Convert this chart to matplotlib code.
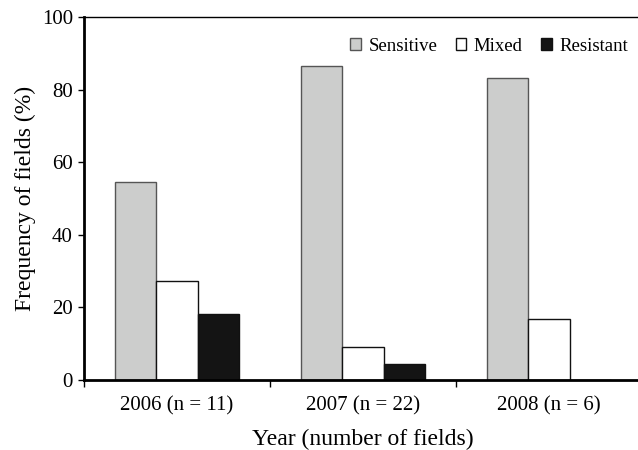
import matplotlib
matplotlib.use("Agg")
import matplotlib.pyplot as plt
import numpy as np

years = ["2006 (n = 11)", "2007 (n = 22)", "2008 (n = 6)"]
series_names = ["Sensitive", "Mixed", "Resistant"]
sensitive = [54.5, 86.4, 83.3]
mixed = [27.3, 9.1, 16.7]
resistant = [18.2, 4.5, 0.0]
y_ticks = [0, 20, 40, 60, 80, 100]

plt.rcParams['font.family'] = ['Liberation Serif', 'DejaVu Serif']

fig = plt.figure(figsize=(6.38, 4.5), dpi=100)
ax = fig.add_axes([84/638, 1-380/450, 558/638, 363/450])

x = np.arange(len(years))
w = 0.223
fills = ["#cccdcc", "#ffffff", "#141414"]
edges = ["#555555", "#111111", "#111111"]
for i, (vals, name) in enumerate(zip([sensitive, mixed, resistant], series_names)):
    ax.bar(x + (i - 1) * w, vals, width=w, color=fills[i], edgecolor=edges[i],
           linewidth=1.0, label=name, zorder=2)

ax.set_xlim(-0.5, 2.5)
ax.set_ylim(0, 100)
ax.set_yticks(y_ticks)
ax.set_xticks(x)
ax.set_xticklabels(years, fontsize=15)
ax.tick_params(axis='x', length=0, pad=12)
ax.set_xticks([-0.5, 0.5, 1.5], minor=True)
ax.tick_params(axis='x', which='minor', length=5, width=1, direction='out')
ax.tick_params(axis='y', labelsize=15, length=4, width=1, direction='out', pad=4)

ax.spines['right'].set_visible(False)
ax.spines['top'].set_linewidth(1.0)
ax.spines['left'].set_linewidth(2.0)
ax.spines['bottom'].set_linewidth(2.0)

ax.set_ylabel("Frequency of fields (%)", fontsize=17, labelpad=4)
ax.set_xlabel("Year (number of fields)", fontsize=17, labelpad=9)

leg = ax.legend(loc='upper right', bbox_to_anchor=(1.005, 0.99), ncol=3, frameon=False,
                fontsize=13.5, handlelength=0.55, handleheight=0.55, handletextpad=0.4,
                columnspacing=1.0)

fig.savefig("out.png", dpi=100)
